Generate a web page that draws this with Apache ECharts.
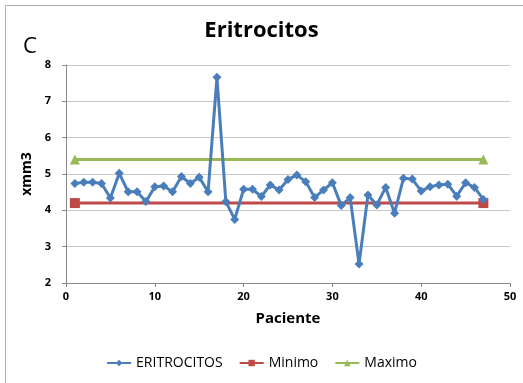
<!DOCTYPE html>
<html><head><meta charset="utf-8">
<script src="https://cdn.jsdelivr.net/npm/echarts@6/dist/echarts.min.js"></script>
<style>html,body{margin:0;padding:0;background:#fff}#c{width:523px;height:383px}</style>
</head><body><div id="c"></div>
<script>
const pacientes = [1,2,3,4,5,6,7,8,9,10,11,12,13,14,15,16,17,18,19,20,21,22,23,24,25,26,27,28,29,30,31,32,33,34,35,36,37,38,39,40,41,42,43,44,45,46,47];
const eritrocitos = [4.74,4.77,4.77,4.74,4.34,5.02,4.51,4.51,4.24,4.65,4.67,4.51,4.93,4.74,4.91,4.51,7.66,4.24,3.75,4.58,4.58,4.38,4.70,4.56,4.85,4.97,4.79,4.35,4.56,4.76,4.13,4.35,2.52,4.42,4.15,4.63,3.92,4.88,4.86,4.53,4.65,4.70,4.72,4.39,4.76,4.63,4.30];
const minimoX = [1,47];
const minimoY = [4.2,4.2];
const maximoX = [1,47];
const maximoY = [5.4,5.4];
const xTicks = [0,10,20,30,40,50];
const yTicks = [2,3,4,5,6,7,8];

const font = "'Open Sans', 'Liberation Sans', sans-serif";
const chart = echarts.init(document.getElementById('c'));
chart.setOption({
  animation:false,
  textStyle:{fontFamily:font},
  graphic:[
    {type:'rect',shape:{x:5.5,y:5.5,width:530,height:390},style:{fill:'none',stroke:'#b0b0b0',lineWidth:1}},
    {type:'text',left:23,top:36,style:{text:'C',font:'22px '+font,fill:'#000'}}
  ],
  title:{text:'Eritrocitos',left:'center',top:15,textStyle:{fontFamily:font,fontSize:22,fontWeight:'bold',color:'#000'}},
  grid:{left:66,right:13,top:65,bottom:100},
  legend:{bottom:8,left:'center',itemWidth:24,itemHeight:8,itemGap:16,
    textStyle:{fontFamily:font,fontSize:14,color:'#000'},
    data:['ERITROCITOS','Minimo','Maximo']},
  xAxis:{type:'value',min:0,max:50,interval:10,
    name:'Paciente',nameLocation:'middle',nameGap:28,
    nameTextStyle:{fontFamily:font,fontSize:15,fontWeight:'bold',color:'#000'},
    axisLine:{show:true,lineStyle:{color:'#888'}},
    axisTick:{show:true,length:4,lineStyle:{color:'#888'}},
    axisLabel:{fontFamily:font,fontSize:11,fontWeight:'bold',color:'#000',margin:8},
    splitLine:{show:false}},
  yAxis:{type:'value',min:2,max:8,interval:1,
    name:'xmm3',nameLocation:'middle',nameGap:27,nameRotate:90,
    nameTextStyle:{fontFamily:font,fontSize:14,fontWeight:'bold',color:'#000'},
    axisLine:{show:true,lineStyle:{color:'#888'}},
    axisTick:{show:true,length:4,lineStyle:{color:'#888'}},
    axisLabel:{fontFamily:font,fontSize:11,fontWeight:'bold',color:'#000',margin:15},
    splitLine:{show:true,lineStyle:{color:'#c8c8c8'}}},
  series:[
    {name:'ERITROCITOS',type:'line',data:pacientes.map((p,i)=>[p,eritrocitos[i]]),
      symbol:'diamond',symbolSize:9,lineStyle:{width:3,color:'#4a7ebb'},itemStyle:{color:'#4a7ebb'},z:3},
    {name:'Minimo',type:'line',data:minimoX.map((x,i)=>[x,minimoY[i]]),
      symbol:'rect',symbolSize:10,lineStyle:{width:3,color:'#be4b48'},itemStyle:{color:'#be4b48'},z:2},
    {name:'Maximo',type:'line',data:maximoX.map((x,i)=>[x,maximoY[i]]),
      symbol:'triangle',symbolSize:10,lineStyle:{width:3,color:'#98b954'},itemStyle:{color:'#98b954'},z:2}
  ]
});
</script></body></html>
